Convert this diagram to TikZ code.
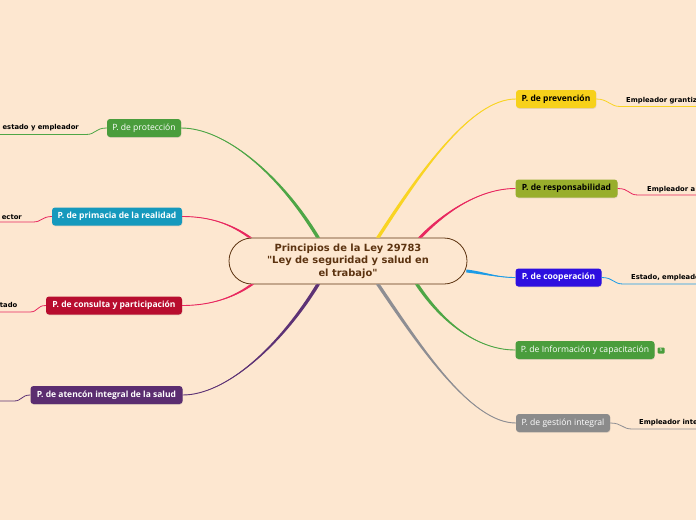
\documentclass[tikz,border=0pt]{standalone}
\usepackage{fontspec}
\setmainfont{DejaVu Sans}
\newfontfamily\opensans{Open Sans}
\usepackage{xcolor}
\usetikzlibrary{calc,shadows}

\definecolor{bgpeach}{HTML}{FDE7D0}
\definecolor{titlebrown}{HTML}{5C3310}
\definecolor{nodegreen}{HTML}{4A9D3C}
\definecolor{nodeteal}{HTML}{1599BD}
\definecolor{nodered}{HTML}{B80D2E}
\definecolor{nodepurple}{HTML}{5B2D70}
\definecolor{nodeyellow}{HTML}{F7D11A}
\definecolor{nodeolive}{HTML}{98AE2C}
\definecolor{nodeblue}{HTML}{2D0FE0}
\definecolor{nodegrey}{HTML}{8B8B8B}
\definecolor{linegreen}{HTML}{4EA646}
\definecolor{linepink}{HTML}{E8285F}
\definecolor{linepurple}{HTML}{5D3275}
\definecolor{lineyellow}{HTML}{F9D423}
\definecolor{lineblue}{HTML}{1C9BE6}
\definecolor{linegrey}{HTML}{8E8E93}

% tapered branch: colour, start, end, out, in, half width
\newcommand{\mapbranch}[6]{%
  \fill[#1] ($(#2)+(#6)$) .. controls +(#4) and +(#5) .. (#3)
    .. controls +(#5) and +(#4) .. ($(#2)-(#6)$) -- cycle;
  \draw[#1,line width=0.9pt] (#2) .. controls +(#4) and +(#5) .. (#3);}

\begin{document}
\begin{tikzpicture}[
    x=1pt, y=-1pt,
    topic/.style={rounded corners=3pt, minimum height=18pt, inner sep=0pt,
      text=white, font=\opensans\fontsize{8.6}{10}\selectfont,
      drop shadow={shadow xshift=0.4pt, shadow yshift=-0.8pt, opacity=0.2}},
    bold topic/.style={topic, font=\opensans\fontsize{8.5}{10}\selectfont\bfseries},
    leaf/.style={inner sep=0pt, font=\fontsize{6.8}{8}\selectfont\bfseries},
    twig/.style={line width=0.8pt}
  ]
    \useasboundingbox (0,0) rectangle (696,520);
    \fill[bgpeach] (0,0) rectangle (696,520);
    \clip (0,0) rectangle (696,520);

    \node[draw=titlebrown, fill=bgpeach, line width=0.8pt, rounded corners=23pt,
      minimum width=238pt, minimum height=46pt, text=titlebrown, align=center,
      font=\fontsize{9.9}{12.5}\selectfont\bfseries] (title) at (348,261)
      {Principios de la Ley 29783\\\textquotedbl Ley de seguridad y salud en\\el trabajo\textquotedbl};

    \node[topic, fill=nodegreen, minimum width=74pt] (prot) at (144,128) {P. de protección};
    \node[bold topic, fill=nodeteal, minimum width=130pt] (prim) at (117,216.5) {P. de primacia de la realidad};
    \node[bold topic, fill=nodered, minimum width=136pt] (cons) at (114,305.5) {P. de consulta y participación};
    \node[bold topic, fill=nodepurple, minimum width=152pt] (aten) at (106.5,395) {P. de atencón integral de la salud};
    \node[bold topic, fill=nodeyellow, text=black, minimum width=80pt] (prev) at (556,99) {P. de prevención};
    \node[bold topic, fill=nodeolive, text=black, minimum width=102pt] (resp) at (566.5,188.5) {P. de responsabilidad};
    \node[bold topic, fill=nodeblue, minimum width=86pt] (coop) at (558.5,277.5) {P. de cooperación};
    \node[topic, fill=nodegreen, minimum width=139pt] (info) at (585,350) {P. de Información y capacitación};
    \node[topic, fill=nodegrey, minimum width=94pt] (gest) at (563,423) {P. de gestión integral};
    \node[fill=nodegreen, rounded corners=1pt, minimum width=7pt, minimum height=6pt,
      inner sep=0pt, text=white, font=\fontsize{4}{4}\selectfont] (badge) at (661,350.5) {5};

    \coordinate (tProt) at ($(title.north)+(-30,0)$);
    \coordinate (tPrim) at ($(title.north)+(-98,0)$);
    \coordinate (tCons) at ($(title.south)+(-96,0)$);
    \coordinate (tAten) at ($(title.south)+(-30,0)$);
    \coordinate (tPrev) at ($(title.north)+(30,0)$);
    \coordinate (tResp) at ($(title.north)+(72,0)$);
    \coordinate (tCoop) at ($(title.east)+(-1,10)$);
    \coordinate (tInfo) at ($(title.south)+(69,0)$);
    \coordinate (tGest) at ($(title.south)+(30,0)$);

    \mapbranch{linegreen}{tProt}{prot.east}{-38,-63}{44,0}{2,0}
    \mapbranch{linepink}{tPrim}{prim.east}{-22,-16}{23,0}{2,0}
    \mapbranch{linepink}{tCons}{cons.east}{-22,16}{23,0}{2,0}
    \mapbranch{linepurple}{tAten}{aten.east}{-38,62}{43,0}{2,0}
    \mapbranch{lineyellow}{tPrev}{prev.west}{42,-65}{-45,0}{2,0}
    \mapbranch{linepink}{tResp}{resp.west}{25,-26}{-35,0}{2,0}
    \mapbranch{lineblue}{tCoop}{coop.west}{18,2}{-18,0}{0,1.5}
    \mapbranch{linegreen}{tInfo}{info.west}{28,42}{-35,0}{2,0}
    \mapbranch{linegrey}{tGest}{gest.west}{42,62}{-45,0}{2,0}

    \coordinate (protL) at (86,134.5);  \coordinate (protE) at (0,134.5);
    \coordinate (primL) at (33,222);    \coordinate (primE) at (0,222);
    \coordinate (consL) at (30,312);    \coordinate (consE) at (0,312);
    \coordinate (atenL) at (14,401);    \coordinate (atenE) at (0,401);
    \coordinate (prevL) at (620,106.5); \coordinate (prevE) at (696,106.5);
    \coordinate (respL) at (638,195);   \coordinate (respE) at (696,195);
    \coordinate (coopL) at (623,284);   \coordinate (coopE) at (696,284);
    \coordinate (gestL) at (632,429);   \coordinate (gestE) at (696,429);

    \draw[twig, linegreen] (prot.west) .. controls +(-12,0) and +(10,0) .. (protL) -- (protE);
    \draw[twig, linepink] (prim.west) .. controls +(-10,0) and +(9,0) .. (primL) -- (primE);
    \draw[twig, linepink] (cons.west) .. controls +(-9,0) and +(8,0) .. (consL) -- (consE);
    \draw[twig, linepurple] (aten.west) .. controls +(-9,0) and +(8,0) .. (atenL) -- (atenE);
    \draw[twig, lineyellow] (prev.east) .. controls +(12,0) and +(-10,0) .. (prevL) -- (prevE);
    \draw[twig, linepink] (resp.east) .. controls +(12,0) and +(-10,0) .. (respL) -- (respE);
    \draw[twig, lineblue] (coop.east) .. controls +(12,0) and +(-10,0) .. (coopL) -- (coopE);
    \draw[twig, linegrey] (gest.east) .. controls +(12,0) and +(-10,0) .. (gestL) -- (gestE);

    \node[leaf, anchor=base east] (protT) at (79,129.5) {estado y empleador};
    \node[leaf, anchor=base east] (primT) at (22,219) {ector};
    \node[leaf, anchor=base east] (consT) at (17.5,307.5) {tado};
    \node[leaf, anchor=base west] (prevT) at (626,102) {Empleador grantiza};
    \node[leaf, anchor=base west] (respT) at (647,191) {Empleador a};
    \node[leaf, anchor=base west] (coopT) at (631,279.5) {Estado, empleador};
    \node[leaf, anchor=base west] (gestT) at (639,424.5) {Empleador inte};
  \end{tikzpicture}
\end{document}
